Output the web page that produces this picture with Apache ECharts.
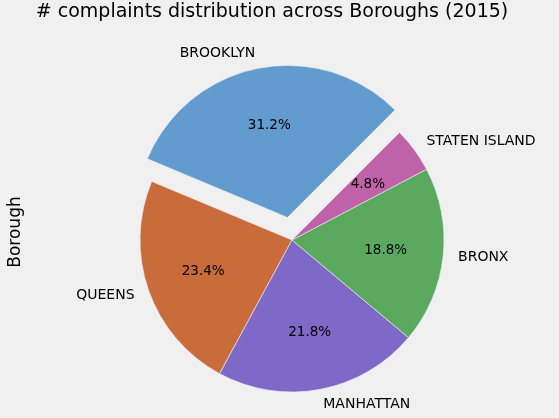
<!DOCTYPE html>
<html>
<head>
<meta charset="utf-8">
<script src="https://cdn.jsdelivr.net/npm/echarts@6/dist/echarts.min.js"></script>
<style>
  html, body { margin: 0; padding: 0; background: #f0f0f0; }
  #main { width: 559px; height: 418px; }
</style>
</head>
<body>
<div id="main"></div>
<script>
// borough share of complaints, 2015 (percent)
const boroughs = ['BROOKLYN', 'QUEENS', 'MANHATTAN', 'BRONX', 'STATEN ISLAND']
const shares = [31.2, 23.4, 21.8, 18.8, 4.8]
const colors = ['#629bcd', '#ca6b3b', '#7e69c8', '#5aa95f', '#c062a8']

const chart = echarts.init(document.getElementById('main'))

const center = [292, 240]
const R = 152
const explode = 23

// main wedges, names outside at ~1.1r
const wedges = boroughs.map((name, i) => ({
  name: name,
  value: shares[i],
  selected: i === 0,
  itemStyle: { color: colors[i] }
}))
// transparent copy, only used to put the % text at ~0.6r
const ghost = boroughs.map((name, i) => ({
  name: name,
  value: shares[i],
  selected: i === 0,
  itemStyle: { color: 'rgba(0,0,0,0)' }
}))

chart.setOption({
  backgroundColor: '#f0f0f0',
  animation: false,
  title: {
    text: '# complaints distribution across Boroughs (2015)',
    left: 272,
    top: 3,
    textAlign: 'center',
    padding: 0,
    textStyle: { fontFamily: 'DejaVu Sans', fontSize: 19, fontWeight: 'normal', color: '#000' }
  },
  graphic: [{
    type: 'text',
    x: 16,
    y: 232,
    rotation: Math.PI / 2,
    style: {
      text: 'Borough',
      fontFamily: 'DejaVu Sans',
      fontSize: 17,
      fill: '#000',
      textAlign: 'center',
      textVerticalAlign: 'middle'
    }
  }],
  series: [{
    type: 'pie',
    center: center,
    radius: [0, R],
    startAngle: 45,
    clockwise: false,
    selectedMode: 'single',
    selectedOffset: explode,
    avoidLabelOverlap: false,
    silent: true,
    emphasis: { disabled: true },
    itemStyle: { borderColor: '#f0f0f0', borderWidth: 0.6 },
    label: {
      show: true,
      position: 'outside',
      formatter: '{b}',
      fontFamily: 'DejaVu Sans',
      fontSize: 14,
      color: '#000',
      distanceToLabelLine: 0
    },
    labelLine: { show: false, length: 15, length2: 0 },
    data: wedges
  }, {
    type: 'pie',
    center: center,
    radius: [0, R * 1.2],
    startAngle: 45,
    clockwise: false,
    selectedMode: 'single',
    selectedOffset: explode,
    silent: true,
    emphasis: { disabled: true },
    label: {
      show: true,
      position: 'inside',
      formatter: p => p.value.toFixed(1) + '%',
      fontFamily: 'DejaVu Sans',
      fontSize: 13.5,
      color: '#000'
    },
    labelLine: { show: false },
    data: ghost
  }]
})
</script>
</body>
</html>
